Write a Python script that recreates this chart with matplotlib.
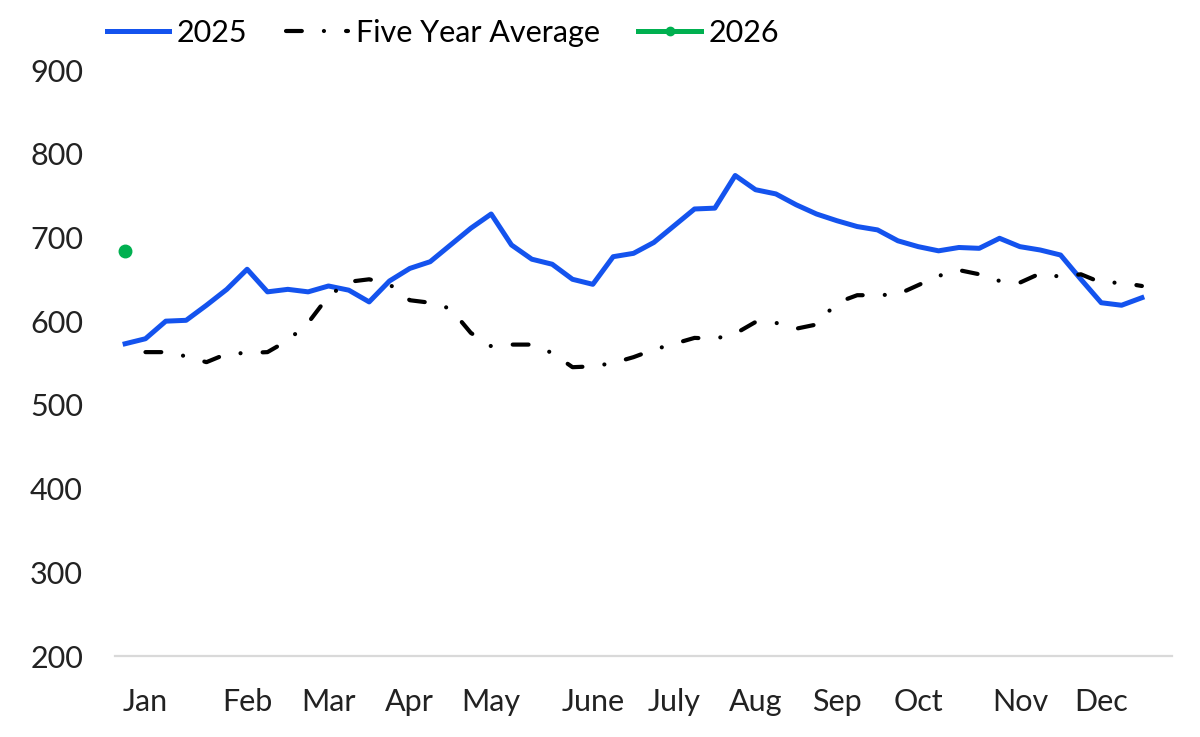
import numpy as np
import matplotlib
matplotlib.use("Agg")
import matplotlib.pyplot as plt
from matplotlib.lines import Line2D

plt.rcParams['font.family'] = ['Lato', 'DejaVu Sans']

# weekly values, week 1 .. week 52
y2025 = [573, 579, 600, 601, 619, 638, 662, 635, 638, 635,
         642, 637, 623, 648, 663, 671, 691, 711, 728, 691,
         674, 668, 650, 644, 677, 681, 694, 714, 734, 735,
         774, 757, 752, 739, 728, 720, 713, 709, 696, 689,
         684, 688, 687, 699, 689, 685, 679, 650, 622, 619,
         628, np.nan]

five_yr = [np.nan, 563, 563, 558, 551, 561, 562, 563, 577, 598,
           630, 647, 650, 644, 625, 622, 615, 586, 570, 572,
           572, 562, 545, 546, 550, 557, 566, 573, 580, 579,
           585, 599, 598, 591, 596, 622, 631, 631, 632, 643,
           654, 661, 656, 648, 646, 657, 653, 656, 646, 646,
           642, np.nan]

y2026 = [684] + [np.nan] * 51

month_labels = ["Jan", "Feb", "Mar", "Apr", "May", "June", "July",
                "Aug", "Sep", "Oct", "Nov", "Dec"]
month_weeks = [1, 6, 10, 14, 18, 23, 27, 31, 35, 39, 44, 48]

x = np.arange(len(y2025))

fig = plt.figure(figsize=(12, 7.37), dpi=100)
ax = fig.add_axes([0.0958, 0.1099, 0.8812, 0.7951])

blue = "#1453EE"
green = "#00B050"
dash_pat = (3.8, 5.3, 0.01, 5.3)

ax.plot(x, y2025, color=blue, lw=3.6, solid_joinstyle='round', label="2025")
ax.plot(x, five_yr, color="black", lw=3.0, dashes=dash_pat,
        dash_capstyle='round', label="Five Year Average")
ax.plot(x, y2026, color=green, lw=3.6, marker='o', markersize=9, label="2026")

ax.set_xlim(-0.5, 51.5)
ax.set_ylim(200, 900)
ax.set_yticks(range(200, 901, 100))
ax.set_xticks(month_weeks)
ax.set_xticklabels(month_labels)

for s in ["top", "right", "left"]:
    ax.spines[s].set_visible(False)
ax.spines["bottom"].set_color("#D9D9D9")
ax.spines["bottom"].set_linewidth(1.6)
ax.tick_params(axis='both', length=0, labelsize=22, colors="#222222")
ax.tick_params(axis='x', pad=23)
ax.tick_params(axis='y', pad=23)

handles = [Line2D([], [], color=blue, lw=3.6),
           Line2D([], [], color="black", lw=3.0, dashes=dash_pat,
                  dash_capstyle='round'),
           Line2D([], [], color=green, lw=3.6, marker='o', markersize=6)]
fig.legend(handles, ["2025", "Five Year Average", "2026"], loc="upper left",
           bbox_to_anchor=(0.066, 1.012), ncol=3, frameon=False, fontsize=22,
           handlelength=2.05, handletextpad=0.25, columnspacing=1.25)

fig.savefig("out.png", dpi=100)
